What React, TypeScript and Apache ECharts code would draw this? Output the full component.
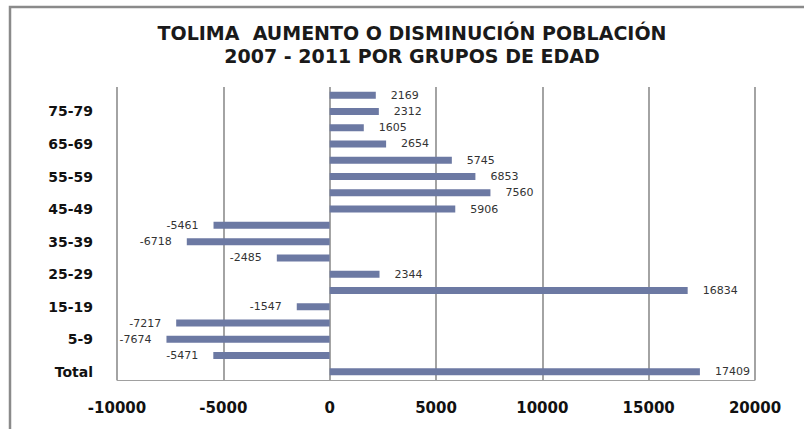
import React, { useEffect, useRef } from "react";
import * as echarts from "echarts";

const categories = [
  "Total", "0-4", "5-9", "10-14", "15-19", "20-24", "25-29", "30-34", "35-39",
  "40-44", "45-49", "50-54", "55-59", "60-64", "65-69", "70-74", "75-79", "80 y más",
];
const values = [
  17409, -5471, -7674, -7217, -1547, 16834, 2344, -2485, -6718,
  -5461, 5906, 7560, 6853, 5745, 2654, 1605, 2312, 2169,
];
const titleLines = [
  "TOLIMA  AUMENTO O DISMINUCIÓN POBLACIÓN",
  "2007 - 2011 POR GRUPOS DE EDAD",
];
const xMin = -10000;
const xMax = 20000;
const xInterval = 5000;

export default function App() {
  const ref = useRef<HTMLDivElement>(null);
  useEffect(() => {
    document.body.style.margin = "0";
    const chart = echarts.init(ref.current!, null, { renderer: "svg" });
    chart.setOption({
      animation: false,
      backgroundColor: "#ffffff",
      title: {
        text: titleLines.join("\n"),
        left: 412,
        top: 21,
        padding: 0,
        textAlign: "center",
        textStyle: {
          fontFamily: "DejaVu Sans",
          fontSize: 19,
          fontWeight: "bold",
          color: "#1a1a1a",
          lineHeight: 23,
        },
      },
      graphic: [
        {
          type: "rect",
          shape: { x: 10, y: 7, width: 900, height: 600 },
          style: { fill: "none", stroke: "#8a8a8a", lineWidth: 2.5 },
          silent: true,
        },
      ],
      grid: { left: 117, right: 49, top: 87, bottom: 49, containLabel: false },
      xAxis: {
        type: "value",
        min: xMin,
        max: xMax,
        interval: xInterval,
        axisLine: { show: true, onZero: false, lineStyle: { color: "#a0a0a0", width: 1 } },
        axisTick: { show: false },
        axisLabel: {
          margin: 20,
          fontFamily: "DejaVu Sans",
          fontWeight: "bold",
          fontSize: 15,
          color: "#111",
          formatter: (v: number) => String(v),
        },
        splitLine: { show: true, lineStyle: { color: "#9a9a9a", width: 1.8 } },
      },
      yAxis: {
        type: "category",
        data: categories,
        axisLine: { show: false },
        axisTick: { show: false },
        axisLabel: {
          interval: 1,
          margin: 24,
          fontFamily: "DejaVu Sans",
          fontWeight: "bold",
          fontSize: 14,
          color: "#111",
        },
      },
      series: [
        {
          type: "bar",
          barWidth: 7,
          itemStyle: { color: "#6c79a3" },
          data: values.map((v) => ({
            value: v,
            label: { position: v >= 0 ? "right" : "left" },
          })),
          label: {
            show: true,
            distance: 15,
            fontFamily: "DejaVu Sans",
            fontSize: 11,
            color: "#333",
          },
        },
      ],
    });
    return () => chart.dispose();
  }, []);
  return <div ref={ref} style={{ width: 804, height: 429 }} />;
}
